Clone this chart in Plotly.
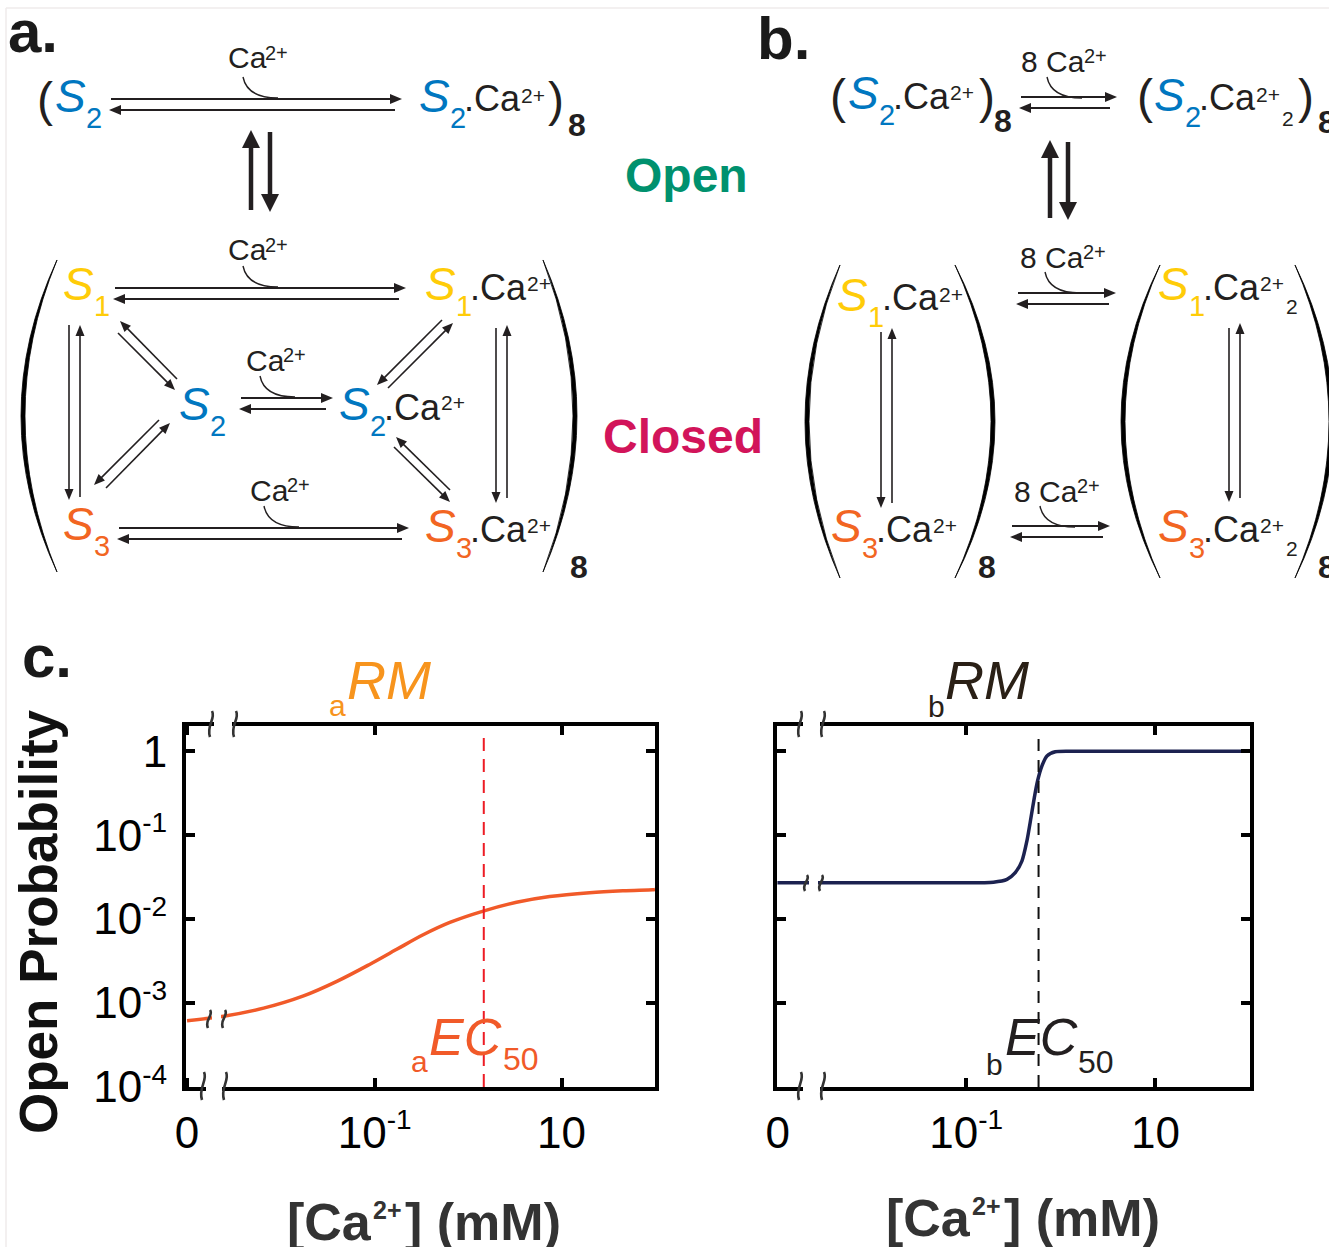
import math
import plotly.graph_objects as go

W, H = 1329, 1247
FONT = "Liberation Sans, Arial, sans-serif"
INK = "#231F20"
BLUE = "#0077C0"
YELLOW = "#FFCC08"
ORANGE = "#F26522"
GREEN = "#00916E"
CRIMSON = "#D2145A"
RM_A = "#F7941D"
CURVE_A = "#F15A29"
CURVE_B = "#1C2250"
DASH_A = "#ED1C24"

# ---------------- data ----------------
ca_a = [0.00098, 0.00241, 0.00646, 0.0173, 0.0393, 0.0891, 0.172, 0.330, 0.637, 1.45, 3.29, 7.46, 19.95,
        45.3, 94.6, 100.0]
po_a = [0.000617, 0.000697, 0.000869, 0.001216, 0.001811, 0.002904, 0.004365, 0.00650, 0.00912, 0.01245,
        0.01585, 0.01858, 0.02065, 0.02173, 0.02234, 0.0225]
ca_b = [0.00101, 0.01, 0.082, 0.194, 0.270, 0.330, 0.388, 0.438, 0.484, 0.525, 0.568, 0.632, 0.714, 0.875,
        1.26, 2.62, 10.0, 100.0]
po_b = [0.0271, 0.0271, 0.0271, 0.0275, 0.0297, 0.0357, 0.0491, 0.0851, 0.162, 0.280, 0.442, 0.668, 0.879,
        0.985, 1.0, 1.0, 1.0, 1.0]
ec50_a = 1.47
ec50_b = 0.582
xa_tickvals = [0.00098, 0.1, 10]
xb_tickvals = [0.00102, 0.1, 10]
x_ticktext = ["0", "10<sup><span style='font-size:28px'>-1</span></sup>", "10"]
y_tickvals = [1, 0.1, 0.01, 0.001, 0.0001]
y_ticktext = ["1"] + [f"10<sup><span style='font-size:28px'>-{k}</span></sup>" for k in (1, 2, 3, 4)]

shapes = []
annots = []


def X(x):
    return x / W


def Y(y):
    return 1 - y / H


def P(x, y):
    return f"{X(x):.5f},{Y(y):.5f}"


def T(x, y, text, size, color=INK, anchor="left", bold=False, italic=False, angle=0):
    t = text
    if bold:
        t = f"<b>{t}</b>"
    if italic:
        t = f"<i>{t}</i>"
    annots.append(dict(x=X(x), y=Y(y), xref="paper", yref="paper", text=t, showarrow=False,
                       xanchor=anchor, yanchor="middle", textangle=angle,
                       font=dict(size=size, color=color, family=FONT)))


def line(x0, y0, x1, y1, w=1.6, color=INK):
    shapes.append(dict(type="line", xref="paper", yref="paper", x0=X(x0), y0=Y(y0), x1=X(x1), y1=Y(y1),
                       line=dict(color=color, width=w), layer="above"))


def arrow(x0, y0, x1, y1, lw=1.6, hl=11, hw=4.5, color=INK):
    dx, dy = x1 - x0, y1 - y0
    L = math.hypot(dx, dy)
    ux, uy = dx / L, dy / L
    bx, by = x1 - ux * hl, y1 - uy * hl
    px, py = -uy, ux
    line(x0, y0, bx + ux * 2, by + uy * 2, lw, color)
    shapes.append(dict(type="path", xref="paper", yref="paper",
                       path=f"M{P(x1, y1)} L{P(bx + px * hw, by + py * hw)} L{P(bx - px * hw, by - py * hw)} Z",
                       fillcolor=color, line=dict(width=0), layer="above"))


def path(d, w=1.6, color=INK, fill=None):
    s = dict(type="path", xref="paper", yref="paper", path=d, line=dict(color=color, width=w), layer="above")
    if fill:
        s["fillcolor"] = fill
        s["line"] = dict(width=0.8, color=color)
    shapes.append(s)


def hook(x, y):
    path(f"M{P(x, y)} C{P(x + 3, y + 15)} {P(x + 15, y + 21)} {P(x + 35, y + 21)}", w=1.4)


def paren(xt, yt, xm, yb, thick=4):
    """Big bracket as a filled crescent, thicker in the middle."""
    ym = (yt + yb) / 2
    sgn = 1 if xm > xt else -1
    c_out = 2 * xm - xt
    c_in = 2 * (xm - sgn * thick) - xt
    path(f"M{P(xt, yt)} Q{P(c_out, ym)} {P(xt, yb)} Q{P(c_in, ym)} {P(xt, yt)} Z", fill="black", color="black")


def ca_label(x, y, prefix=""):
    T(x, y, prefix + "Ca", 30)
    T(x + (37 if not prefix else 63), y - 5, "2+", 20)


def species(x, y, idx, color, ca=True, ca2=False):
    T(x, y, "S", 46, color, italic=True)
    T(x + 31, y + 22, str(idx), 29, color)
    if ca:
        T(x + 45, y + 3, ".Ca", 36)
        T(x + 102, y - 1, "2+", 21)
    if ca2:
        T(x + 128, y + 23, "2", 21)


def hpair(xl, xr, yt, yb):
    arrow(xl, yt, xr, yt, lw=2, hl=12, hw=5)
    arrow(xr - 7, yb, xl - 2, yb, lw=2, hl=12, hw=5)


# ---------------- faint frame of the original figure ----------------
line(6, 8, 1329, 8, w=1.5, color="#EFEBEB")
line(6, 8, 6, 1247, w=1.5, color="#EFEBEB")

# ---------------- panel a ----------------
T(6, 31, "a.", 60, "#1A1A1A", bold=True)
T(35, 100, "(", 48)
species(53, 96, 2, BLUE, ca=False)
hpair(111, 402, 99, 110)
hook(243, 77)
ca_label(226, 58)
species(417, 96, 2, BLUE)
T(546, 100, ")", 48)
T(566, 125, "8", 32, bold=True)
arrow(251, 210, 251, 130, lw=4.5, hl=18, hw=9)
arrow(270, 132, 270, 212, lw=4.5, hl=18, hw=9)

T(686, 175, "Open", 48, GREEN, anchor="center", bold=True)
T(683, 437, "Closed", 48, CRIMSON, anchor="center", bold=True)

ca_label(226, 250)
hook(243, 266)
hpair(115, 406, 288, 299)
species(61, 284, 1, YELLOW, ca=False)
species(423, 284, 1, YELLOW)
species(177, 404, 2, BLUE, ca=False)
ca_label(244, 360)
hook(260, 376)
hpair(241, 333, 398, 409)
species(337, 404, 2, BLUE)
species(61, 524, 3, ORANGE, ca=False)
ca_label(248, 490)
hook(264, 506)
hpair(119, 409, 528, 539)
species(423, 526, 3, ORANGE)

paren(57, 260, 21, 572)
paren(543, 260, 577, 572)
T(568, 567, "8", 32, bold=True)

arrow(69, 325, 69, 500)
arrow(80, 497, 80, 325)
arrow(496, 328, 496, 503)
arrow(507, 498, 507, 325)
arrow(177, 379, 120, 321)
arrow(118, 333, 175, 390)
arrow(159, 420, 94, 485)
arrow(106, 488, 170, 423)
arrow(442, 320, 377, 385)
arrow(388, 388, 453, 323)
arrow(450, 490, 396, 437)
arrow(394, 447, 450, 502)

# ---------------- panel b ----------------
T(755, 38, "b.", 60, "#1A1A1A", bold=True)
T(828, 96, "(", 48)
species(846, 93, 2, BLUE)
T(977, 96, ")", 48)
T(992, 121, "8", 32, bold=True)
hpair(1021, 1117, 97, 108)
hook(1047, 77)
ca_label(1019, 61, "8 ")
T(1135, 97, "(", 48)
species(1152, 95, 2, BLUE, ca2=True)
T(1296, 97, ")", 48)
T(1316, 122, "8", 32, bold=True)
arrow(1050, 218, 1050, 140, lw=4.5, hl=18, hw=9)
arrow(1068, 142, 1068, 220, lw=4.5, hl=18, hw=9)

ca_label(1018, 257, "8 ")
hook(1045, 272)
hpair(1018, 1116, 293, 304)
paren(840, 265, 805, 578)
paren(955, 265, 995, 578)
T(976, 567, "8", 32, bold=True)
species(835, 295, 1, YELLOW)
arrow(881, 332, 881, 508)
arrow(892, 503, 892, 328)
species(829, 526, 3, ORANGE)
ca_label(1012, 491, "8 ")
hook(1040, 506)
hpair(1012, 1110, 526, 537)
paren(1160, 265, 1121, 578)
paren(1295, 265, 1333, 578)
species(1156, 284, 1, YELLOW, ca2=True)
arrow(1229, 328, 1229, 502)
arrow(1240, 498, 1240, 323)
species(1156, 526, 3, ORANGE, ca2=True)
T(1316, 567, "8", 32, bold=True)

# ---------------- panel c ----------------
T(20, 656, "c.", 60, "#1A1A1A", bold=True)
T(38, 922, "Open Probability", 53, "#111111", anchor="center", bold=True, angle=-90)
for x0, yc, xs, xr in ((285, 1222, 371, 403), (884, 1218, 970, 1002)):
    T(x0, yc, "[Ca", 52, "#333333", bold=True)
    T(xs, yc - 12, "2+", 25, "#333333", bold=True)
    T(xr, yc, "] (mM)", 52, "#333333", bold=True)

T(345, 680, "RM", 54, RM_A, italic=True)
T(327, 705, "a", 30, RM_A)
T(943, 680, "RM", 54, "#2A2016", italic=True)
T(926, 707, "b", 30, "#2A2016")

T(427, 1037, "EC", 52, CURVE_A, italic=True)
T(409, 1061, "a", 30, CURVE_A)
T(501, 1059, "50", 32, CURVE_A)
T(1003, 1037, "EC", 52, INK, italic=True)
T(984, 1064, "b", 30, INK)
T(1076, 1062, "50", 32, INK)

fig = go.Figure()
fig.add_trace(go.Scatter(x=ca_a, y=po_a, mode="lines", line=dict(color=CURVE_A, width=3.5, shape="spline", smoothing=1.0),
                         xaxis="x", yaxis="y", showlegend=False, hoverinfo="skip"))
fig.add_trace(go.Scatter(x=ca_b, y=po_b, mode="lines", line=dict(color=CURVE_B, width=3.5, shape="spline", smoothing=0.7),
                         xaxis="x2", yaxis="y2", showlegend=False, hoverinfo="skip"))

shapes.append(dict(type="line", xref="x", yref="y domain", x0=ec50_a, x1=ec50_a, y0=0, y1=0.975,
                   line=dict(color=DASH_A, width=2, dash="13px,8px"), layer="above"))
shapes.append(dict(type="line", xref="x2", yref="y2 domain", x0=ec50_b, x1=ec50_b, y0=0, y1=0.975,
                   line=dict(color="#111111", width=2, dash="12px,9px"), layer="above"))


def axis_break(xa, xb, yc, h, gap_h=12):
    shapes.append(dict(type="rect", xref="paper", yref="paper", x0=X(xa + 3), x1=X(xb - 3),
                       y0=Y(yc + gap_h / 2), y1=Y(yc - gap_h / 2), fillcolor="white",
                       line=dict(width=0), layer="above"))
    for xc in (xa, xb):
        t, b = yc - h / 2, yc + h / 2
        path(f"M{P(xc + 1, t)} C{P(xc + 5, t + h * 0.3)} {P(xc - 5, t + h * 0.55)} {P(xc - 1, b)}",
             w=2.6, color="#333333")


axis_break(211, 235, 724, 26)
axis_break(203, 225, 1086, 28)
axis_break(209, 224, 1019, 18, gap_h=14)
axis_break(800, 823, 724, 26)
axis_break(800, 823, 1086, 28)
axis_break(806, 821, 883, 16, gap_h=12)

xcommon = dict(type="log", showline=True, linewidth=4, linecolor="black", mirror="ticks",
               ticks="inside", ticklen=9, tickwidth=3.5, tickcolor="black", showgrid=False,
               zeroline=False, ticktext=x_ticktext, automargin=False,
               tickfont=dict(size=44, family=FONT, color="black"), ticklabelstandoff=4)
ycommon = dict(type="log", showline=True, linewidth=4, linecolor="black", mirror="ticks",
               ticks="inside", ticklen=9, tickwidth=3.5, tickcolor="black", showgrid=False,
               zeroline=False, tickvals=y_tickvals, ticktext=y_ticktext, range=[-4.0, 0.30],
               automargin=False,
               tickfont=dict(size=44, family=FONT, color="black"), ticklabelstandoff=6)

fig.update_layout(
    width=W, height=H, autosize=False,
    margin=dict(l=0, r=0, t=0, b=0, pad=0, autoexpand=False),
    paper_bgcolor="white", plot_bgcolor="white",
    xaxis=dict(xcommon, tickvals=xa_tickvals, domain=[X(186), X(655)], range=[-3.02, 2.0], anchor="y"),
    yaxis=dict(ycommon, domain=[Y(1087), Y(726)], anchor="x"),
    xaxis2=dict(xcommon, tickvals=xb_tickvals, domain=[X(777), X(1250)], range=[-3.0, 2.0], anchor="y2"),
    yaxis2=dict(ycommon, domain=[Y(1087), Y(726)], anchor="x2", showticklabels=False),
    shapes=shapes, annotations=annots, showlegend=False,
    font=dict(family=FONT),
)

fig.write_html("out.html")
